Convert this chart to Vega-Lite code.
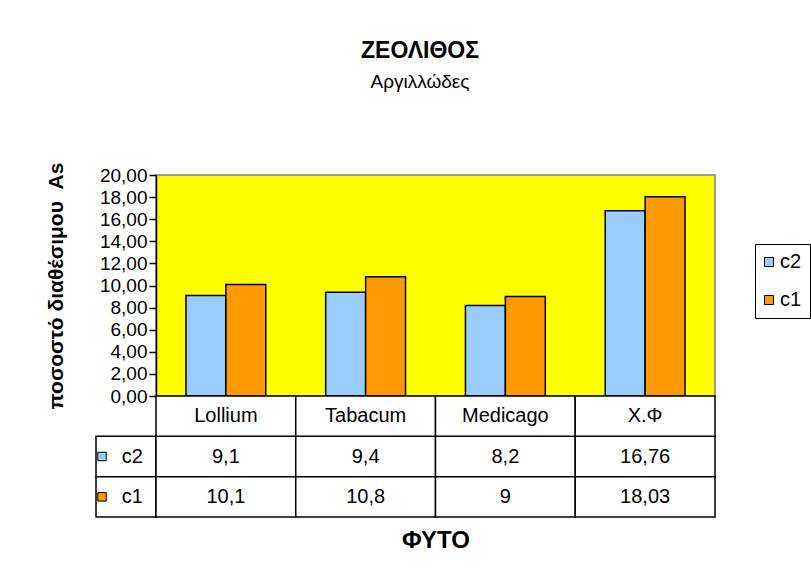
{
  "$schema": "https://vega.github.io/schema/vega-lite/v6.json",
  "padding": {"left": 44, "top": 40, "right": 0, "bottom": 0},
  "background": "white",
  "config": {
    "locale": {"number": {"decimal": ",", "thousands": ".", "grouping": [3], "currency": ["", " €"]}},
    "font": "Liberation Sans",
    "view": {"stroke": null}
  },
  "title": {
    "text": "ΖΕΟΛΙΘΟΣ",
    "subtitle": "Αργιλλώδες",
    "anchor": "middle",
    "frame": "group",
    "font": "Liberation Sans",
    "fontSize": 23,
    "fontWeight": "bold",
    "color": "black",
    "subtitleFont": "Liberation Sans",
    "subtitleFontSize": 19,
    "subtitleColor": "black",
    "subtitlePadding": 10,
    "offset": 69,
    "dx": 324
  },
  "datasets": {
    "vals": [
      {"plant": "Lollium", "series": "c2", "value": 9.1},
      {"plant": "Lollium", "series": "c1", "value": 10.1},
      {"plant": "Tabacum", "series": "c2", "value": 9.4},
      {"plant": "Tabacum", "series": "c1", "value": 10.8},
      {"plant": "Medicago", "series": "c2", "value": 8.2},
      {"plant": "Medicago", "series": "c1", "value": 9},
      {"plant": "X.Φ", "series": "c2", "value": 16.76},
      {"plant": "X.Φ", "series": "c1", "value": 18.03}
    ]
  },
  "columns": 2,
  "spacing": 0,
  "bounds": "flush",
  "resolve": {"scale": {"x": "independent", "y": "independent", "color": "shared"}},
  "concat": [
    {
      "width": 60,
      "height": 221,
      "data": {"values": [{"a": 1}]},
      "mark": {"type": "text"},
      "encoding": {"text": {"value": ""}}
    },
    {
      "width": 559,
      "height": 221,
      "data": {"name": "vals"},
      "view": {"fill": "#FFFF00", "stroke": "#808080", "strokeWidth": 1.5},
      "mark": {"type": "bar", "stroke": "black", "strokeWidth": 1.5},
      "encoding": {
        "x": {
          "field": "plant", "type": "nominal",
          "sort": ["Lollium", "Tabacum", "Medicago", "X.Φ"],
          "scale": {"paddingInner": 0.4286, "paddingOuter": 0.2143},
          "axis": null
        },
        "xOffset": {
          "field": "series", "type": "nominal",
          "sort": ["c2", "c1"],
          "scale": {"paddingInner": 0, "paddingOuter": 0}
        },
        "y": {
          "field": "value", "type": "quantitative",
          "scale": {"domain": [0, 20], "nice": false},
          "axis": {
            "title": "ποσοστό διαθέσιμου \u00a0As",
            "values": [0, 2, 4, 6, 8, 10, 12, 14, 16, 18, 20],
            "format": ".2f",
            "grid": false,
            "domainColor": "black",
            "domainWidth": 1.5,
            "tickColor": "black",
            "tickSize": 7,
            "tickWidth": 1.5,
            "labelFontSize": 19,
            "labelColor": "black",
            "labelPadding": 2,
            "titleFontSize": 21,
            "titleFontWeight": "bold",
            "titleColor": "black",
            "titlePadding": 33
          }
        },
        "color": {
          "field": "series", "type": "nominal",
          "scale": {"domain": ["c2", "c1"], "range": ["#99CCFF", "#FF9900"]},
          "legend": {
            "orient": "none", "legendX": 659, "legendY": 69,
            "title": null,
            "strokeColor": "black", "fillColor": "white",
            "padding": 8,
            "symbolType": "square", "symbolSize": 81,
            "symbolStrokeColor": "black", "symbolStrokeWidth": 1,
            "symbolOffset": -4,
            "labelFontSize": 20, "labelColor": "black", "labelOffset": 1,
            "labelFont": "Liberation Sans",
            "rowPadding": 18
          }
        }
      }
    },
    {
      "width": 60,
      "height": 121,
      "data": {"name": "vals"},
      "transform": [{"filter": "datum.plant == 'Lollium'"}],
      "encoding": {
        "y": {
          "field": "series", "type": "nominal",
          "scale": {"domain": ["hdr", "c2", "c1"], "paddingInner": 0, "paddingOuter": 0},
          "axis": null
        }
      },
      "layer": [
        {
          "mark": {"type": "rect", "fill": "white", "stroke": "black", "strokeWidth": 1.5},
          "encoding": {
            "x": {"datum": "lbl", "type": "nominal", "scale": {"paddingInner": 0, "paddingOuter": 0}, "axis": null}
          }
        },
        {
          "mark": {"type": "point", "shape": "square", "filled": true, "size": 72, "stroke": "black", "strokeWidth": 1, "opacity": 1},
          "encoding": {
            "x": {"datum": "lbl", "type": "nominal", "bandPosition": 0.1, "axis": null},
            "color": {
              "field": "series", "type": "nominal",
              "legend": {
                "orient": "none", "legendX": 659, "legendY": 69,
                "title": null,
                "strokeColor": "black", "fillColor": "white",
                "padding": 8,
                "symbolType": "square", "symbolSize": 81,
                "symbolStrokeColor": "black", "symbolStrokeWidth": 1,
                "symbolOffset": -4,
                "labelFontSize": 20, "labelColor": "black", "labelOffset": 1,
                "labelFont": "Liberation Sans",
                "rowPadding": 18
              }
            }
          }
        },
        {
          "mark": {"type": "text", "align": "left", "baseline": "middle", "fontSize": 20, "color": "black"},
          "encoding": {
            "x": {"datum": "lbl", "type": "nominal", "bandPosition": 0.43, "axis": null},
            "text": {"field": "series", "type": "nominal"}
          }
        }
      ]
    },
    {
      "width": 559,
      "height": 121,
      "data": {"name": "vals"},
      "encoding": {
        "x": {
          "field": "plant", "type": "nominal",
          "sort": ["Lollium", "Tabacum", "Medicago", "X.Φ"],
          "scale": {"paddingInner": 0, "paddingOuter": 0},
          "axis": {
            "title": "ΦΥΤΟ", "labels": false, "ticks": false, "domain": false,
            "titleFontSize": 24, "titleFontWeight": "bold", "titleColor": "black",
            "titlePadding": 11
          }
        }
      },
      "layer": [
        {
          "mark": {"type": "rect", "fill": "white", "stroke": "black", "strokeWidth": 1.5},
          "encoding": {
            "y": {
              "field": "series", "type": "nominal",
              "scale": {"domain": ["hdr", "c2", "c1"], "paddingInner": 0, "paddingOuter": 0},
              "axis": null
            }
          }
        },
        {
          "transform": [{"filter": "datum.series == 'c2'"}],
          "mark": {"type": "rect", "fill": "white", "stroke": "black", "strokeWidth": 1.5},
          "encoding": {"y": {"datum": "hdr", "type": "nominal", "axis": null}}
        },
        {
          "mark": {"type": "text", "fontSize": 20, "color": "black", "baseline": "middle"},
          "encoding": {
            "y": {"field": "series", "type": "nominal", "axis": null},
            "text": {"field": "value", "type": "quantitative", "format": "~g"}
          }
        },
        {
          "transform": [{"filter": "datum.series == 'c2'"}],
          "mark": {"type": "text", "fontSize": 20, "color": "black", "baseline": "middle"},
          "encoding": {
            "y": {"datum": "hdr", "type": "nominal", "axis": null},
            "text": {"field": "plant", "type": "nominal"}
          }
        }
      ]
    }
  ]
}
